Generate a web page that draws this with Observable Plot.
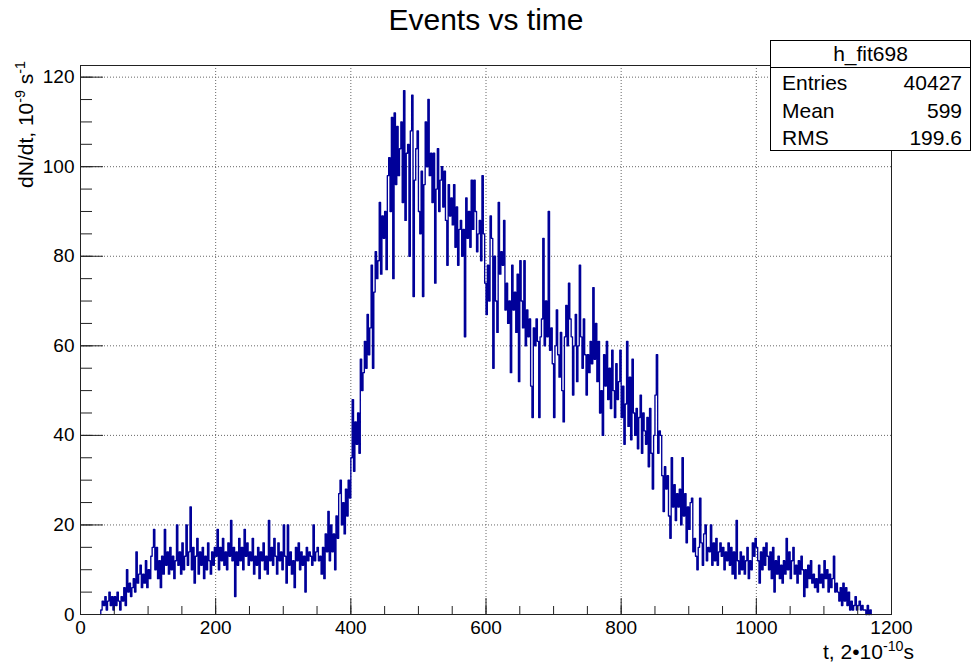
<!DOCTYPE html>
<html><head><meta charset="utf-8">
<script src="https://cdn.jsdelivr.net/npm/d3@7"></script>
<script src="https://cdn.jsdelivr.net/npm/@observablehq/plot@0.6"></script>
<style>
html,body{margin:0;padding:0;background:#fff;}
#wrap{position:relative;width:972px;height:672px;font-family:"Liberation Sans",Arial,Helvetica,sans-serif;color:#000;overflow:hidden;}
#title{position:absolute;left:0;width:972px;top:1px;text-align:center;font-size:30px;line-height:38px;}
#stats{position:absolute;left:770px;top:40px;width:201px;height:111px;border:1px solid #000;background:#fff;box-sizing:border-box;font-size:21px;}
#stats .hd{position:absolute;left:0;right:0;top:0;height:26px;border-bottom:1px solid #000;text-align:center;line-height:26px;}
#stats .row{position:absolute;left:11px;right:8px;height:26px;line-height:26px;}
#stats .row span.v{position:absolute;right:0;}
#ylab{position:absolute;left:27px;top:61px;transform-origin:0 0;transform:rotate(-90deg) translate(-100%,-50%);white-space:nowrap;font-size:21px;line-height:24px;}
#xlab{position:absolute;right:58px;top:640px;white-space:nowrap;font-size:21px;line-height:24px;}
sup{font-size:0.68em;vertical-align:0;position:relative;top:-0.55em;}
</style>
</head><body>
<div id="wrap">
<div id="chart"></div>
<div id="title">Events vs time</div>
<div id="ylab">dN/dt, 10<sup>-9</sup> s<sup>-1</sup></div>
<div id="xlab">t, 2<span>&#8226;</span>10<sup>-10</sup>s</div>
<div id="stats"></div>
</div>
<script>
// histogram: first bin low edge, bin width, bin contents
const binStart = 30;
const binWidth = 2;
const counts = [
1,3,2,4,1, 3,5,2,4,1, 4,2,5,3,1, 4,3,6,2,10, 5,7,4,6,8,
5,14,7,9,11, 6,9,7,12,6, 10,8,13,15,19, 10,15,8,12,6, 13,9,19,11,14,
9,15,10,13,8, 12,20,11,14,9, 16,10,13,20,11, 14,24,10,15,7, 13,17,9,14,11,
15,8,13,10,16, 12,9,14,11,15, 13,19,10,15,12, 17,11,14,10,16, 13,21,12,15,4,
14,11,17,12,15, 10,19,13,16,11, 14,12,17,9,13, 11,15,8,14,12, 16,10,13,9,21,
12,15,11,17,13, 9,16,12,14,10, 20,13,7,20,11, 14,9,12,6,15, 12,16,10,14,11,
13,5,15,12,14, 13,11,20,12,14, 15,12,13,9,15, 8,18,14,23,12, 20,14,18,10,22,
17,27,30,20,25, 18,28,22,30,26, 35,48,32,43,38, 45,36,57,50,54, 61,55,67,58,64,
78,55,72,81,75, 79,92,76,89,84, 90,77,98,102,90, 111,75,112,96,109, 98,104,110,92,117,
88,103,105,80,108, 116,71,97,104,108, 90,85,99,71,96, 110,100,115,98,103, 92,103,74,95,104,
90,97,100,91,99, 88,78,96,89,93, 87,96,82,91,78, 86,88,80,86,62, 93,84,90,82,97,
86,97,90,81,85, 88,79,98,85,74, 67,78,70,89,84, 55,80,70,63,92, 76,81,78,88,68,
74,65,70,54,78, 68,72,63,76,52, 79,70,64,79,60, 68,62,66,51,44, 64,60,66,61,44,
62,66,84,60,70, 62,90,59,64,56, 44,60,68,58,53, 63,50,43,62,69, 60,74,66,62,49,
60,67,52,60,78, 62,55,66,58,49, 58,54,61,56,73, 57,65,52,61,45, 50,40,58,51,61,
48,55,46,59,50, 44,56,48,52,59, 44,51,38,47,61, 42,53,39,57,45, 40,46,37,44,49,
36,45,41,38,44, 33,46,36,28,40, 49,58,36,41,40, 31,23,33,28,31, 22,17,35,24,29,
21,27,24,28,20, 35,22,27,16,24, 19,25,26,14,17, 13,10,15,26,16, 11,18,20,12,15,
14,20,11,16,12, 17,11,14,16,13, 15,10,14,12,16, 11,15,9,14,8, 21,12,9,14,10,
13,9,12,15,8, 12,10,16,13,17, 15,12,7,14,10, 15,11,16,13,10, 14,8,15,5,12,
9,13,8,11,7, 12,9,17,10,14, 8,12,15,9,11, 7,12,9,13,10, 4,10,6,11,8,
12,7,9,6,8, 5,11,7,9,6, 12,8,10,5,9, 6,8,13,5,7, 5,3,6,2,7,
3,6,2,5,1, 3,1,2,4,1, 2,3,1,2,1, 1,0,2,0,1
];
const xTicks = [0, 200, 400, 600, 800, 1000, 1200];
const yTicks = [0, 20, 40, 60, 80, 100, 120];
const xMinorTicks = d3.range(0, 1201, 50);
const yMinorTicks = d3.range(0, 121, 5);
const statsTitle = "h_fit698";
const statsNames = ["Entries", "Mean", "RMS"];
const statsValues = ["40427", "599", "199.6"];

// stats box
const sb = document.getElementById("stats");
sb.innerHTML = `<div class="hd">${statsTitle}</div>` +
  statsNames.map((n, i) => `<div class="row" style="top:${29 + i * 27.5}px"><span>${n}</span><span class="v">${statsValues[i]}</span></div>`).join("");

// step outline of the histogram
const binEnd = binStart + counts.length * binWidth;
const pts = [{x: binStart, y: 0}]
  .concat(counts.map((c, i) => ({x: binStart + i * binWidth, y: c})))
  .concat([{x: binEnd, y: counts[counts.length - 1]}, {x: binEnd, y: 0}]);

const chart = Plot.plot({
  width: 972, height: 672,
  marginLeft: 80, marginRight: 81, marginTop: 65, marginBottom: 58,
  style: {fontFamily: "'Liberation Sans', Arial, Helvetica, sans-serif", fontSize: "19px", background: "transparent", color: "#000"},
  x: {domain: [0, 1200]},
  y: {domain: [0, 122.6]},
  marks: [
    Plot.gridX(xTicks.slice(1, -1), {stroke: "#666", strokeOpacity: 1, strokeDasharray: "1,2"}),
    Plot.gridY(yTicks.slice(1), {stroke: "#666", strokeOpacity: 1, strokeDasharray: "1,2"}),
    Plot.line(pts, {x: "x", y: "y", curve: "step-after", stroke: "#000099", strokeWidth: 1.35}),
    Plot.frame({stroke: "#222", strokeWidth: 1}),
    Plot.axisY(yMinorTicks, {tickSize: 12, insetLeft: 12, fill: "none", label: null, stroke: "#222"}),
    Plot.axisY(yTicks, {tickSize: 23, insetLeft: 23, fill: "none", label: null, stroke: "#222"}),
    Plot.axisY(yTicks, {tickSize: 0, tickPadding: 6, label: null, tickFormat: d => String(d), fontSize: 19}),
    Plot.axisX(xMinorTicks, {tickSize: 8, insetBottom: 8, fill: "none", label: null, stroke: "#222"}),
    Plot.axisX(xTicks, {tickSize: 16, insetBottom: 16, fill: "none", label: null, stroke: "#222"}),
    Plot.axisX(xTicks, {tickSize: 0, tickPadding: 6, label: null, tickFormat: d => String(d), fontSize: 19})
  ]
});
document.getElementById("chart").appendChild(chart);
</script>
</body></html>
